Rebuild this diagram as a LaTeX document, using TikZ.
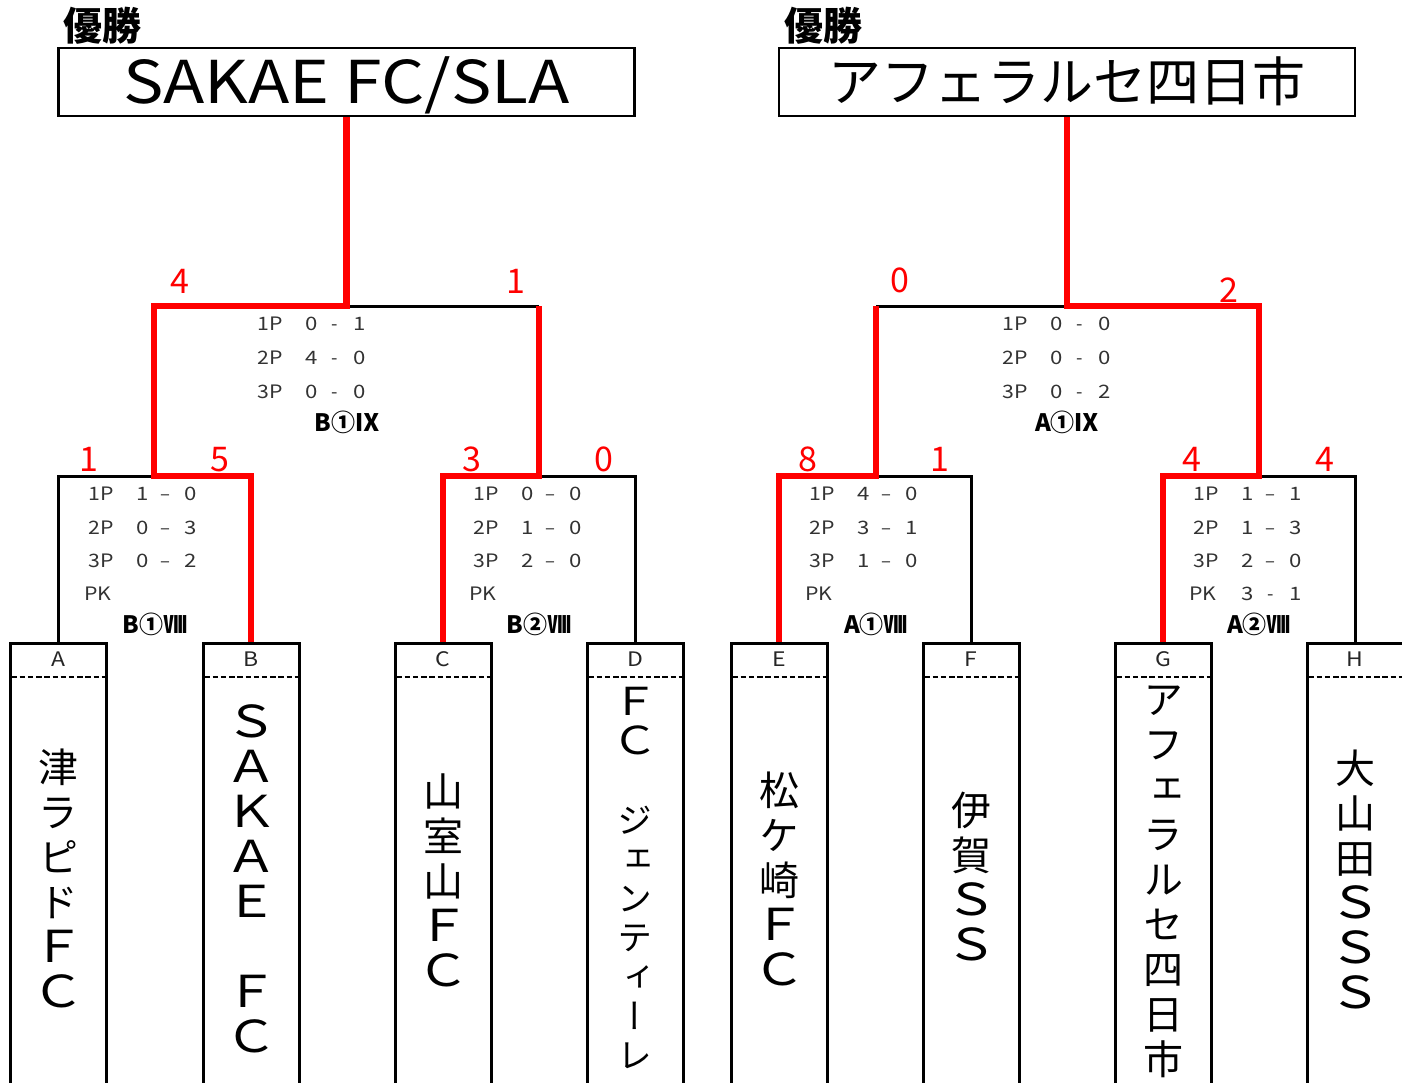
\documentclass[tikz,border=0pt]{standalone}
\usepackage{fontspec}
\usepackage{graphicx}
\newfontfamily\jp{Noto Sans CJK JP}
\newfontfamily\jpv[RawFeature=+vert]{Noto Sans CJK JP}
\definecolor{wred}{RGB}{255,0,0}
\newcommand\wl[1]{\scalebox{1.3}[1.1]{#1}}
\tikzset{
  blk/.style={line width=3pt, black, line join=miter},
  redl/.style={line width=6.5pt, wred, line join=miter},
  champ/.style={draw, line width=2.8pt, minimum width=576pt, minimum height=68pt, inner sep=0pt},
  win/.style={font=\jp\bfseries\fontsize{39}{39}\selectfont, anchor=base west, inner sep=0pt},
  team/.style={draw, line width=3pt, minimum width=96pt, minimum height=460pt, anchor=north, inner sep=0pt},
  lett/.style={font=\jp\fontsize{20}{20}\selectfont, anchor=base, inner sep=0pt, text=black!85},
  dsh/.style={line width=2.4pt, dash pattern=on 5.5pt off 2.7pt},
  tname/.style={font=\jpv\fontsize{40}{45}\selectfont, align=center, inner sep=0pt},
  sc/.style={font=\jp\fontsize{18.5}{18.5}\selectfont, anchor=base, inner sep=0pt, text=black!80},
  lbl/.style={font=\jp\bfseries\fontsize{24}{24}\selectfont, anchor=base, inner sep=0pt},
  rn/.style={font=\jp\fontsize{34}{34}\selectfont, text=wred, anchor=base, inner sep=0pt}
}
\newcommand\sr[8]{%
  \node[sc] (#1l) at (#3,#2) {\scalebox{1.15}[1]{#4}};
  \node[sc] (#1a) at (#5,#2) {\scalebox{1.2}[1]{#6}};
  \node[sc] (#1d) at ({#5+22.5},#2) {#7};
  \node[sc] (#1b) at ({#5+47.5},#2) {\scalebox{1.2}[1]{#8}};}
\begin{document}
\begin{tikzpicture}[x=1pt,y=-1pt]
\useasboundingbox (0,0) rectangle (1402,1082);
\fill[white] (0,0) rectangle (1402,1082);
\clip (0,0) rectangle (1402,1082);

% champions
\node[win] (wL) at (63,40) {優勝};
\node[win] (wR) at (784,40) {優勝};
\node[champ, font=\jp\fontsize{59}{59}\selectfont, text height=43pt, text depth=0pt] (cL) at (346.5,82) {\scalebox{1.15}[1]{SAKAE FC/SLA}};
\node[champ, font=\jp\fontsize{53}{53}\selectfont, text height=43pt, text depth=5pt] (cR) at (1067,82) {アフェラルセ四日市};

% team boxes
\node[team] (tA) at (58,642) {};
\node[team] (tB) at (251,642) {};
\node[team] (tC) at (443,642) {};
\node[team] (tD) at (635,642) {};
\node[team] (tE) at (779,642) {};
\node[team] (tF) at (971,642) {};
\node[team] (tG) at (1163,642) {};
\node[team] (tH) at (1355,642) {};
\foreach \t/\l in {tA/A,tB/B,tC/C,tD/D,tE/E,tF/F,tG/G,tH/H}{
  \node[lett] (l\l) at ([yshift=-24.5pt]\t.north) {\scalebox{1.15}[1]{\l}};
  \draw[dsh] ([xshift=3pt,yshift=-35pt]\t.north west) -- ([xshift=-3pt,yshift=-35pt]\t.north east);
}
\node[tname] (nA) at (58,878) {津\\ラ\\ピ\\ド\\\wl{Ｆ}\\\wl{Ｃ}};
\node[tname] (nB) at (251,879) {\wl{Ｓ}\\\wl{Ａ}\\\wl{Ｋ}\\\wl{Ａ}\\\wl{Ｅ}\\　\\\wl{Ｆ}\\\wl{Ｃ}};
\node[tname] (nC) at (443,880) {山\\室\\山\\\wl{Ｆ}\\\wl{Ｃ}};
\node[tname, font=\jpv\fontsize{35}{39.2}\selectfont] (nD) at (635,878) {\wl{Ｆ}\\\wl{Ｃ}\\　\\ジ\\ェ\\ン\\テ\\ィ\\ー\\レ};
\node[tname] (nE) at (779,879) {松\\ケ\\崎\\\wl{Ｆ}\\\wl{Ｃ}};
\node[tname] (nF) at (971,877) {伊\\賀\\\wl{Ｓ}\\\wl{Ｓ}};
\node[tname] (nG) at (1163,882) {ア\\フ\\ェ\\ラ\\ル\\セ\\四\\日\\市};
\node[tname] (nH) at (1355,879) {大\\山\\田\\\wl{Ｓ}\\\wl{Ｓ}\\\wl{Ｓ}};

% bracket junctions
\coordinate (jLa) at (154,306);
\coordinate (jLb) at (539,306);
\coordinate (qB1) at (154,476);
\coordinate (qB2) at (539,476);
\coordinate (jRa) at (876,306);
\coordinate (jRb) at (1259,306);
\coordinate (qA1) at (876,476);
\coordinate (qA2) at (1259,476);

% black (losing) lines
\draw[blk] (cL.south |- jLa) -- (jLb);
\draw[blk] (tA.north) |- (qB1);
\draw[blk] (tD.north) |- (qB2);
\draw[blk] (jRa) -- (cR.south |- jRa);
\draw[blk] (tF.north) |- (qA1);
\draw[blk] (tH.north) |- (qA2);

% red (winning) lines
\draw[redl] (cL.south) -- (cL.south |- jLa) -- (jLa) -- (qB1) -| (tB.north);
\draw[redl] (jLb) -- (qB2) -| (tC.north);
\draw[redl] (cR.south) -- (cR.south |- jRb) -- (jRb) -- (qA2) -| (tG.north);
\draw[redl] (jRa) -- (qA1) -| (tE.north);

% red scores
\node[rn] (rLa) at (180,293) {4};
\node[rn] (rLb) at (516,293) {1};
\node[rn] (rRa) at (900,292) {0};
\node[rn] (rRb) at (1229,302) {2};
\node[rn] (r1) at (89,471) {1};
\node[rn] (r2) at (220,471) {5};
\node[rn] (r3) at (472,471) {3};
\node[rn] (r4) at (604,471) {0};
\node[rn] (r5) at (808,471) {8};
\node[rn] (r6) at (940,471) {1};
\node[rn] (r7) at (1192,471) {4};
\node[rn] (r8) at (1325,471) {4};

% final score tables
\sr{fLa}{330.5}{270}{1P}{312}{0}{-}{1}
\sr{fLb}{364.5}{270}{2P}{312}{4}{-}{0}
\sr{fLc}{398.5}{270}{3P}{312}{0}{-}{0}
\node[lbl] (lbF1) at (347,431.5) {B①Ⅸ};
\sr{fRa}{330.5}{1015}{1P}{1057}{0}{-}{0}
\sr{fRb}{364.5}{1015}{2P}{1057}{0}{-}{0}
\sr{fRc}{398.5}{1015}{3P}{1057}{0}{-}{2}
\node[lbl] (lbF2) at (1067,431.5) {A①Ⅸ};

% quarter tables
\sr{qa1}{500.5}{101}{1P}{143}{1}{–}{0}
\sr{qa2}{534.5}{101}{2P}{143}{0}{–}{3}
\sr{qa3}{567.5}{101}{3P}{143}{0}{–}{2}
\node[sc] (qa4) at (98,600.5) {\scalebox{1.15}[1]{PK}};
\node[lbl] (lbQ1) at (155,633.5) {B①Ⅷ};

\sr{qb1}{500.5}{486}{1P}{528}{0}{–}{0}
\sr{qb2}{534.5}{486}{2P}{528}{1}{–}{0}
\sr{qb3}{567.5}{486}{3P}{528}{2}{–}{0}
\node[sc] (qb4) at (483,600.5) {\scalebox{1.15}[1]{PK}};
\node[lbl] (lbQ2) at (539,633.5) {B②Ⅷ};

\sr{qc1}{500.5}{822}{1P}{864}{4}{–}{0}
\sr{qc2}{534.5}{822}{2P}{864}{3}{–}{1}
\sr{qc3}{567.5}{822}{3P}{864}{1}{–}{0}
\node[sc] (qc4) at (819,600.5) {\scalebox{1.15}[1]{PK}};
\node[lbl] (lbQ3) at (876,633.5) {A①Ⅷ};

\sr{qd1}{500.5}{1206}{1P}{1248}{1}{–}{1}
\sr{qd2}{534.5}{1206}{2P}{1248}{1}{–}{3}
\sr{qd3}{567.5}{1206}{3P}{1248}{2}{–}{0}
\sr{qd4}{600.5}{1203}{PK}{1248}{3}{-}{1}
\node[lbl] (lbQ4) at (1259,633.5) {A②Ⅷ};
\end{tikzpicture}
\end{document}
